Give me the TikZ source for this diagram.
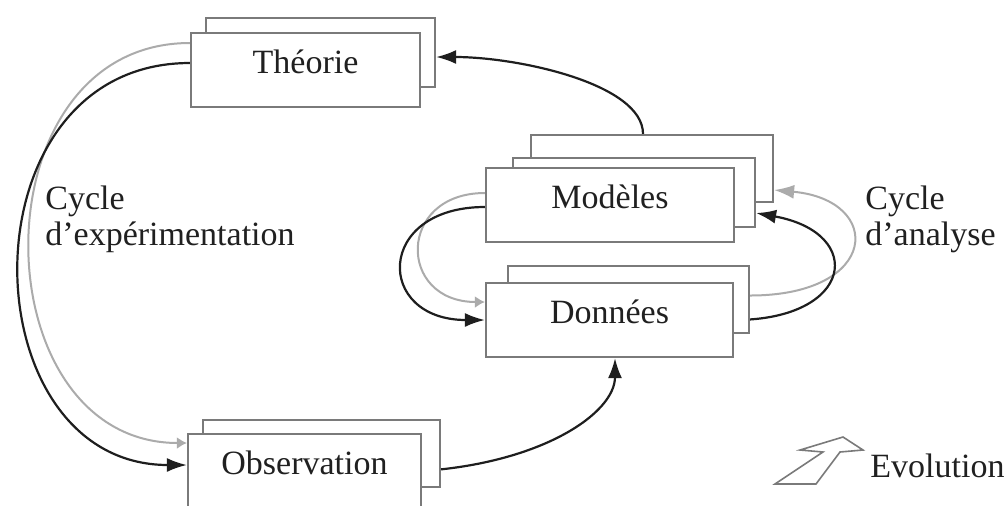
\documentclass[tikz,border=0pt]{standalone}
\usepackage{fontspec}
\setmainfont{Liberation Serif}
\usetikzlibrary{arrows.meta}
\pgfdeclarelayer{bg}
\pgfsetlayers{bg,main}
\definecolor{boxline}{HTML}{7A7A7A}
\definecolor{darkarrow}{HTML}{1E1E1E}
\definecolor{lightarrow}{HTML}{ABABAB}
\definecolor{inkc}{HTML}{202020}
\tikzset{
  card/.style={draw=boxline, line width=1.1pt, fill=white, inner sep=0pt,
    font=\fontsize{17}{17.5}\selectfont, text=inkc,
    text height=0.7em, text depth=0.34em},
  frontcard/.style={card, minimum width=#1, minimum height=37pt},
  darkflow/.style={draw=darkarrow, line width=1.1pt,
    -{Latex[length=10pt,width=7pt]}},
  lightflow/.style={draw=lightarrow, line width=1pt,
    -{Latex[length=10pt,width=7pt]}},
  lightstub/.style={draw=lightarrow, line width=1pt,
    -{Latex[length=5pt,width=6pt]}},
  caption/.style={font=\fontsize{17}{17.5}\selectfont, text=inkc,
    align=left, inner sep=0pt, anchor=base west}
}
\begin{document}
\begin{tikzpicture}[x=0.5pt, y=-0.5pt]
\useasboundingbox (0,0) rectangle (1006,505);
\clip (0,0) rectangle (1006,505);

% Théorie
\node[card, minimum width=114.5pt, minimum height=34.5pt] (theoB) at (320.5,52.5) {};
\node[frontcard=114.5pt] (theoF) at (305.5,70) {Théorie};

% Modèles (three stacked sheets)
\node[card, minimum width=121pt, minimum height=33.5pt] (modB) at (652,168.5) {};
\node[card, minimum width=121pt, minimum height=34.5pt] (modM) at (634,192.5) {};
\node[frontcard=124pt] (modF) at (610,205) {Modèles};

% Données
\node[card, minimum width=120.5pt, minimum height=33.5pt] (donB) at (628.5,299.5) {};
\node[frontcard=123.5pt] (donF) at (609.5,320) {Données};

% Observation
\node[card, minimum width=118.5pt, minimum height=33.5pt] (obsB) at (321.5,453.5) {};
\node[frontcard=116.5pt] (obsF) at (304.5,471) {Observation};

% labels
\node[caption] (expcycle) at (45,245) {Cycle\\[0.5pt]d’expérimentation};
\node[caption] (anacycle) at (865,245) {Cycle\\[0.5pt]d’analyse};
\node[caption] (evo) at (870,477) {Evolution};

% evolution symbol
\draw[boxline, line width=0.8pt, line join=miter]
  (775,484) -- (816,484) -- (840,452) -- (863,450) -- (843,437)
  -- (800,450) -- (823,452) -- cycle;

\begin{pgfonlayer}{bg}
  % experimentation cycle
  \draw[lightstub] ([yshift=13.5pt]theoF.west)
    .. controls +(-216,0) and +(-208,0) .. ([yshift=14pt]obsF.west);
  \draw[darkflow] ([yshift=3.5pt]theoF.west)
    .. controls +(-230,0) and +(-220,0) .. ([yshift=3pt]obsF.west);
  % observation to data
  \draw[darkflow] (obsF.east)
    .. controls +(120,-8) and +(0,55) .. ([xshift=2.75pt]donF.south);
  % models back to theory
  \draw[darkflow] ([xshift=-4.5pt]modB.north)
    .. controls +(0,-50) and +(82,0) .. ([yshift=-2.25pt]theoB.east);
  % analysis cycle, left side
  \draw[lightstub] ([yshift=6pt]modF.west)
    .. controls +(-88,0) and +(-88,0) .. ([yshift=9pt]donF.west);
  \draw[darkflow] ([yshift=-1pt]modF.west)
    .. controls +(-110,0) and +(-110,0) .. (donF.west);
  % analysis cycle, right side
  \draw[lightflow] ([yshift=2pt]donB.east)
    .. controls +(130,0) and +(110,10) .. ([yshift=-10.75pt]modB.east);
  \draw[darkflow] (donF.east)
    .. controls +(120,0) and +(110,20) .. ([yshift=-10.25pt]modM.east);
\end{pgfonlayer}
\end{tikzpicture}
\end{document}
